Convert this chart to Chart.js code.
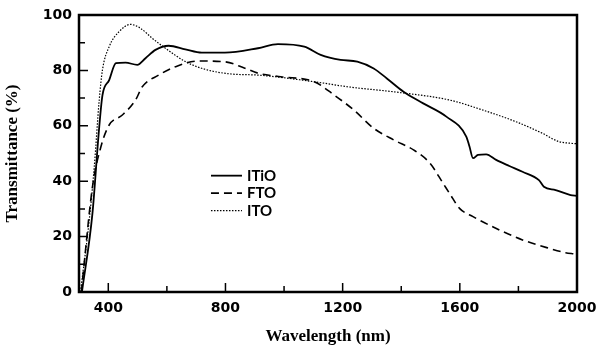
<!DOCTYPE html>
<html>
<head>
<meta charset="utf-8">
<script src="https://cdn.jsdelivr.net/npm/chart.js@4"></script>
<style>
  html, body { margin: 0; padding: 0; background: #fff; }
  #chart { display: block; }
</style>
</head>
<body>
<canvas id="chart" width="600" height="350"></canvas>
<script>
// data
const itioX = [310, 346, 367, 380, 403, 426, 459, 499, 527, 561, 606, 663, 719, 798, 911, 979, 1069, 1125, 1193, 1250, 1306, 1351, 1408, 1475, 1554, 1622, 1633, 1645, 1662, 1690, 1724, 1769, 1814, 1870, 1887, 1927, 1978, 2000];
const itioY = [0, 28.5, 57, 71, 76.5, 82.6, 82.8, 82, 84.4, 87.4, 88.9, 87.6, 86.4, 86.4, 88, 89.5, 88.6, 85.6, 83.8, 83.2, 80.7, 77.1, 72.3, 68.1, 63.3, 56.1, 52.5, 48.3, 49.5, 49.7, 47.7, 45.5, 43.4, 40.4, 38, 36.8, 35, 34.7];

const ftoX = [308, 346, 375, 403, 448, 493, 516, 572, 629, 708, 798, 866, 911, 989, 1103, 1171, 1238, 1306, 1374, 1442, 1498, 1543, 1565, 1599, 1645, 1735, 1814, 1904, 1961, 1990];
const ftoY = [0, 38, 52.5, 60.3, 63.9, 69.3, 74.1, 78.3, 81.3, 83.4, 83.1, 80.8, 79, 77.7, 75.9, 71.1, 65.7, 59.1, 54.9, 51.3, 46.5, 39.2, 35.6, 30.2, 27.2, 22.4, 18.8, 15.8, 14.2, 13.8];

const itoX = [305, 335, 352, 369, 380, 403, 437, 476, 510, 550, 595, 663, 730, 820, 911, 1103, 1216, 1396, 1565, 1678, 1791, 1882, 1938, 1978, 2000];
const itoY = [0, 26, 45, 69.3, 80.1, 88.6, 94, 96.6, 95.2, 91.6, 88, 83.2, 80.4, 78.7, 78.3, 75.9, 74.1, 72, 69.3, 65.7, 61.5, 57.3, 54.3, 53.7, 53.5];

const seriesNames = ['ITiO', 'FTO', 'ITO'];
const xTicks = [400, 800, 1200, 1600, 2000];
const xMinor = [600, 1000, 1400, 1800];
const yTicks = [0, 20, 40, 60, 80, 100];
const yMinor = [10, 30, 50, 70, 90];

function toPoints(xs, ys) {
  return xs.map((x, i) => ({ x: x, y: ys[i] }));
}

const dashes = [[], [8, 5], [1.5, 1.5]];
const widths = [1.8, 1.6, 1.2];

// box round the plot, ticks pointing inwards, legend inside the plot
const framePlugin = {
  id: 'frame',
  afterDraw(chart) {
    const ctx = chart.ctx;
    const a = chart.chartArea;
    const xs = chart.scales.x;
    const ys = chart.scales.y;
    ctx.save();
    ctx.strokeStyle = '#000';
    ctx.lineWidth = 2.5;
    ctx.strokeRect(a.left, a.top, a.right - a.left, a.bottom - a.top);

    ctx.lineWidth = 1.5;
    ctx.beginPath();
    xTicks.forEach(v => { let p = xs.getPixelForValue(v); ctx.moveTo(p, a.bottom); ctx.lineTo(p, a.bottom - 9); });
    xMinor.forEach(v => { let p = xs.getPixelForValue(v); ctx.moveTo(p, a.bottom); ctx.lineTo(p, a.bottom - 6); });
    yTicks.forEach(v => { let p = ys.getPixelForValue(v); ctx.moveTo(a.left, p); ctx.lineTo(a.left + 9, p); });
    yMinor.forEach(v => { let p = ys.getPixelForValue(v); ctx.moveTo(a.left, p); ctx.lineTo(a.left + 6, p); });
    ctx.stroke();

    // legend
    let lx = a.left + (a.right - a.left) * 0.265;
    let ly = a.top + (a.bottom - a.top) * 0.58;
    ctx.font = 'bold 15px Lato';
    ctx.fillStyle = '#000';
    ctx.textBaseline = 'middle';
    seriesNames.forEach((name, i) => {
      let y = ly + i * 17.5;
      ctx.setLineDash(dashes[i]);
      ctx.lineWidth = widths[i];
      ctx.beginPath();
      ctx.moveTo(lx, y);
      ctx.lineTo(lx + 31, y);
      ctx.stroke();
      ctx.setLineDash([]);
      ctx.fillText(name, lx + 36, y);
    });
    ctx.restore();
  }
};

const datasets = [toPoints(itioX, itioY), toPoints(ftoX, ftoY), toPoints(itoX, itoY)].map((d, i) => ({
  label: seriesNames[i],
  data: d,
  borderColor: '#000',
  borderWidth: widths[i],
  borderDash: dashes[i],
  pointRadius: 0,
  fill: false,
  cubicInterpolationMode: 'monotone'
}));

const tickFont = { family: 'DejaVu Sans', weight: 'bold', size: 14 };

new Chart(document.getElementById('chart'), {
  type: 'line',
  data: { datasets: datasets },
  options: {
    responsive: false,
    animation: false,
    layout: { padding: { left: 0, right: 23, top: 15, bottom: 0 } },
    plugins: { legend: { display: false }, tooltip: { enabled: false } },
    scales: {
      x: {
        type: 'linear',
        min: 300,
        max: 2000,
        afterBuildTicks: scale => { scale.ticks = xTicks.map(v => ({ value: v })); },
        afterFit: scale => {
          scale.height = 58;
          // let the layout padding alone decide the side margins
          scale.paddingLeft = 0;
          scale.paddingRight = 0;
        },
        grid: { display: false, drawTicks: false },
        border: { display: false },
        ticks: {
          color: '#000',
          padding: 8,
          maxRotation: 0,
          callback: v => String(v),
          font: tickFont
        },
        title: {
          display: true,
          text: 'Wavelength (nm)',
          color: '#000',
          padding: { top: 0, bottom: 3 },
          font: { family: 'Liberation Serif', weight: 'bold', size: 17 }
        }
      },
      y: {
        min: 0,
        max: 100,
        afterBuildTicks: scale => { scale.ticks = yTicks.map(v => ({ value: v })); },
        afterFit: scale => {
          scale.width = 79;
          scale.paddingTop = 0;
          scale.paddingBottom = 0;
        },
        grid: { display: false, drawTicks: false },
        border: { display: false },
        ticks: {
          color: '#000',
          padding: 7,
          callback: v => String(v),
          font: tickFont
        },
        title: {
          display: true,
          text: 'Transmittance (%)',
          color: '#000',
          padding: { top: 2, bottom: 0 },
          font: { family: 'Liberation Serif', weight: 'bold', size: 17 }
        }
      }
    }
  },
  plugins: [framePlugin]
});
</script>
</body>
</html>
